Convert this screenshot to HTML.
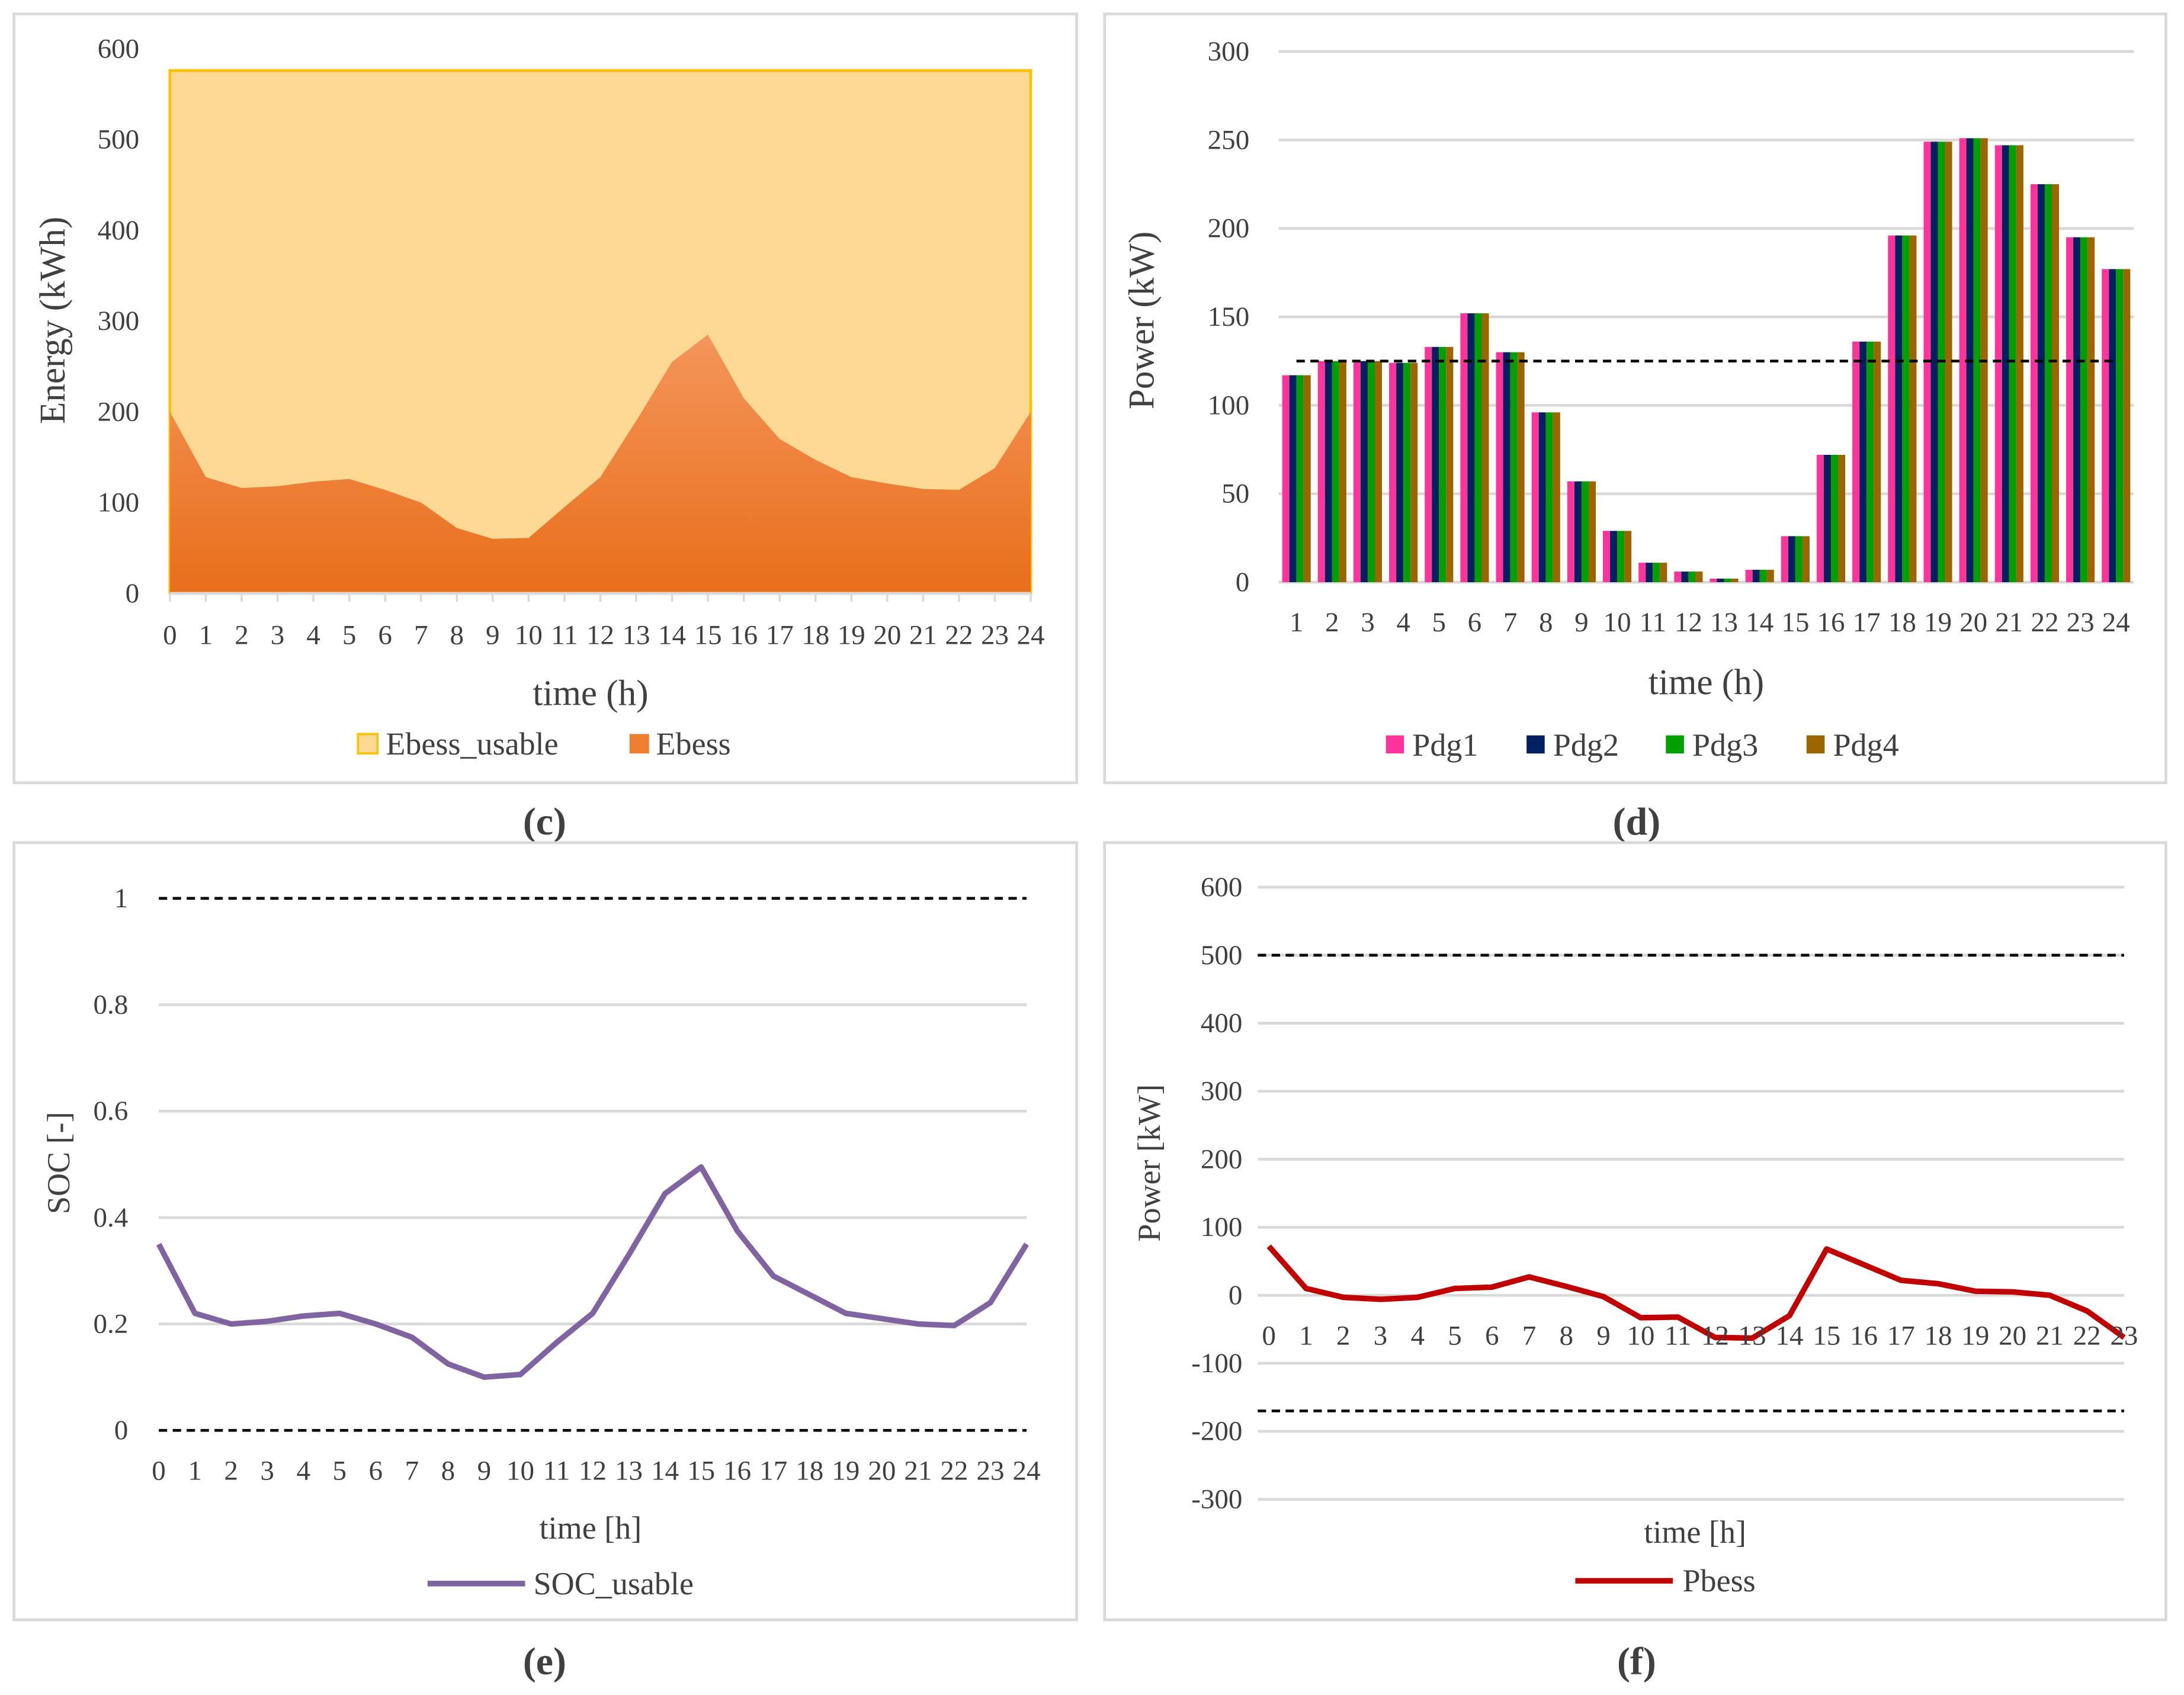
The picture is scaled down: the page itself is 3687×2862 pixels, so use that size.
<!DOCTYPE html>
<html><head><meta charset="utf-8"><style>
html,body{margin:0;padding:0;background:#fff}
svg{display:block}
text{font-family:"Liberation Serif",serif;fill:#404040}
</style></head><body>
<svg id="s" width="3687" height="2862" viewBox="0 0 1568 1217" preserveAspectRatio="none" xmlns="http://www.w3.org/2000/svg">
<rect x="0" y="0" width="1568" height="1217" fill="#fff"/>
</svg>
<script>
const hoursC=[0,1,2,3,4,5,6,7,8,9,10,11,12,13,14,15,16,17,18,19,20,21,22,23,24];
const ebess=[200,128,116,118,123,126,114,100,72,60,61,95,128,190,255,285,215,170,147,128,121,115,114,138,200];
const ebessUsable=[576,576,576,576,576,576,576,576,576,576,576,576,576,576,576,576,576,576,576,576,576,576,576,576,576];
const ticksC=[0,100,200,300,400,500,600];
const hoursD=[1,2,3,4,5,6,7,8,9,10,11,12,13,14,15,16,17,18,19,20,21,22,23,24];
const pdg1=[117,125,125,124,133,152,130,96,57,29,11,6,2,7,26,72,136,196,249,251,247,225,195,177];
const pdg2=[117,125,125,124,133,152,130,96,57,29,11,6,2,7,26,72,136,196,249,251,247,225,195,177];
const pdg3=[117,125,125,124,133,152,130,96,57,29,11,6,2,7,26,72,136,196,249,251,247,225,195,177];
const pdg4=[117,125,125,124,133,152,130,96,57,29,11,6,2,7,26,72,136,196,249,251,247,225,195,177];
const pdgLimit=125;
const ticksD=[0,50,100,150,200,250,300];
const soc=[0.35,0.22,0.2,0.205,0.215,0.22,0.2,0.175,0.125,0.1,0.105,0.165,0.22,0.33,0.445,0.495,0.375,0.29,0.255,0.22,0.21,0.2,0.197,0.24,0.35];
const socLimits=[0,1];
const ticksE=[0,0.2,0.4,0.6,0.8,1];
const hoursF=[0,1,2,3,4,5,6,7,8,9,10,11,12,13,14,15,16,17,18,19,20,21,22,23];
const pbess=[72,10,-3,-6,-3,10,12,27,13,-2,-33,-32,-62,-63,-30,68,45,22,17,6,5,0,-23,-62];
const pbessLimits=[500,-170];
const ticksF=[-300,-200,-100,0,100,200,300,400,500,600];

const S=document.getElementById('s');const NS='http://www.w3.org/2000/svg';
function el(t,a,p){const e=document.createElementNS(NS,t);for(const k in a)e.setAttribute(k,a[k]);(p||S).appendChild(e);return e;}
function txt(x,y,s,sz,anchor,rot){const a={x:x,y:y,'font-size':sz,'text-anchor':anchor||'middle','dominant-baseline':'central'};if(rot)a.transform='rotate(-90 '+x+' '+y+')';const e=el('text',a);e.textContent=s;return e;}
function box(x,y,w,h,name){const e=el('rect',{x:x,y:y,width:w,height:h,fill:'#fff',stroke:'#d9d9d9','stroke-width':2});}
function lin(d0,d1,r0,r1){return v=>r0+(v-d0)/(d1-d0)*(r1-r0);}

// Panel c
box(10,10,763,552,'panel-c');
{const X=lin(0,24,122,740),Y=lin(0,600,426,35);
ticksC.forEach(t=>{const e=txt(100,Y(t),String(t),20,'end');});
let pu='M'+X(hoursC[0])+','+Y(0);hoursC.forEach((h,i)=>pu+=' L'+X(h)+','+Y(ebessUsable[i]));pu+=' L'+X(24)+','+Y(0)+'Z';
const a1=el('path',{d:pu,fill:'#fdd892',stroke:'#ffc000','stroke-width':2});
const g=el('linearGradient',{id:'og',x1:0,y1:0,x2:0,y2:1},el('defs',{}));el('stop',{offset:0,'stop-color':'#f4955a'},g);el('stop',{offset:1,'stop-color':'#e86e1a'},g);
let pe='M'+X(0)+','+Y(0);hoursC.forEach((h,i)=>pe+=' L'+X(h)+','+Y(ebess[i]));pe+=' L'+X(24)+','+Y(0)+'Z';
const a2=el('path',{d:pe,fill:'url(#og)'});
el('line',{x1:X(0),x2:X(24),y1:Y(0),y2:Y(0),stroke:'#d9d9d9','stroke-width':2});
hoursC.forEach(h=>{el('line',{x1:X(h),x2:X(h),y1:Y(0),y2:Y(0)+6,stroke:'#d9d9d9','stroke-width':1.5});const e=txt(X(h),456,String(h),20);});
let e=txt(424,498,'time (h)',26);
e=txt(38,230,'Energy (kWh)',26,'middle',true);
el('rect',{x:257,y:527,width:14,height:14,fill:'#fdd892',stroke:'#ffc000','stroke-width':1.5});
e=txt(277,534,'Ebess_usable',23,'start');
el('rect',{x:452,y:527,width:14,height:14,fill:'#ed7d31'});
e=txt(471,534,'Ebess',23,'start');
e=txt(391,590,'(c)',28);e.setAttribute('font-weight','bold');}

// Panel d
box(793,10,762,552,'panel-d');
{const Y=lin(0,300,418,37);const x0=918,cw=(1532-918)/24;const X=h=>x0+(h-0.5)*cw;
ticksD.forEach(t=>{el('line',{x1:x0,x2:1532,y1:Y(t),y2:Y(t),stroke:'#d9d9d9','stroke-width':2});const e=txt(897,Y(t),String(t),20,'end');});
const series=[pdg1,pdg2,pdg3,pdg4],cols=['#ff3399','#002060','#00a000','#9c6500'],bw=cw*0.2;
hoursD.forEach((h,i)=>{series.forEach((s,k)=>{const r=el('rect',{x:X(h)-2*bw+k*bw,y:Y(s[i]),width:bw,height:Y(0)-Y(s[i]),fill:cols[k]});});
const e=txt(X(h),447,String(h),20);});
const dl=el('line',{x1:X(1),x2:X(24),y1:Y(pdgLimit),y2:Y(pdgLimit),stroke:'#000','stroke-width':2,'stroke-dasharray':'6,4'});
let e=txt(1225,490,'time (h)',26);
e=txt(820,230,'Power (kW)',26,'middle',true);
const lx=[995,1096,1196,1297];['Pdg1','Pdg2','Pdg3','Pdg4'].forEach((n,k)=>{el('rect',{x:lx[k],y:528,width:13,height:13,fill:cols[k]});const t=txt(lx[k]+19,535,n,23,'start');});
e=txt(1175,590,'(d)',28);e.setAttribute('font-weight','bold');}

// Panel e
box(10,605,763,558,'panel-e');
{const X=lin(0,24,114,737),Y=lin(0,1,1027,645);
ticksE.forEach(t=>{if(t>0&&t<1)el('line',{x1:X(0),x2:X(24),y1:Y(t),y2:Y(t),stroke:'#d9d9d9','stroke-width':2});const e=txt(92,Y(t),String(t),20,'end');});
socLimits.forEach(v=>{const l=el('line',{x1:X(0),x2:X(24),y1:Y(v),y2:Y(v),stroke:'#000','stroke-width':2,'stroke-dasharray':'6,4'});});
const pts=hoursC.map((h,i)=>X(h)+','+Y(soc[i])).join(' ');
const pl=el('polyline',{points:pts,fill:'none',stroke:'#8064a2','stroke-width':4,'stroke-linejoin':'round'});
hoursC.forEach(h=>{const e=txt(X(h),1056,String(h),20);});
let e=txt(424,1097,'time [h]',23);
e=txt(42,835,'SOC [-]',23,'middle',true);
el('line',{x1:307,x2:377,y1:1137,y2:1137,stroke:'#8064a2','stroke-width':4});
e=txt(383,1137,'SOC_usable',23,'start');
e=txt(391,1193,'(e)',28);e.setAttribute('font-weight','bold');}

// Panel f
box(793,605,762,558,'panel-f');
{const X=lin(0,23,911,1525),Y=lin(0,600,930,637);
ticksF.forEach(t=>{el('line',{x1:903,x2:1525,y1:Y(t),y2:Y(t),stroke:'#d9d9d9','stroke-width':2});const e=txt(892,Y(t),String(t),20,'end');});
pbessLimits.forEach(v=>{const l=el('line',{x1:903,x2:1525,y1:Y(v),y2:Y(v),stroke:'#000','stroke-width':2,'stroke-dasharray':'6,4'});});
const pts=hoursF.map((h,i)=>X(h)+','+Y(pbess[i])).join(' ');
const pl=el('polyline',{points:pts,fill:'none',stroke:'#c00000','stroke-width':4,'stroke-linejoin':'round'});
hoursF.forEach(h=>{const e=txt(X(h),959,String(h),20);});
let e=txt(1217,1100,'time [h]',23);
e=txt(825,835,'Power [kW]',23,'middle',true);
el('line',{x1:1131,x2:1201,y1:1135,y2:1135,stroke:'#c00000','stroke-width':4});
e=txt(1208,1135,'Pbess',23,'start');
e=txt(1175,1193,'(f)',28);e.setAttribute('font-weight','bold');}
</script>
</body></html>
